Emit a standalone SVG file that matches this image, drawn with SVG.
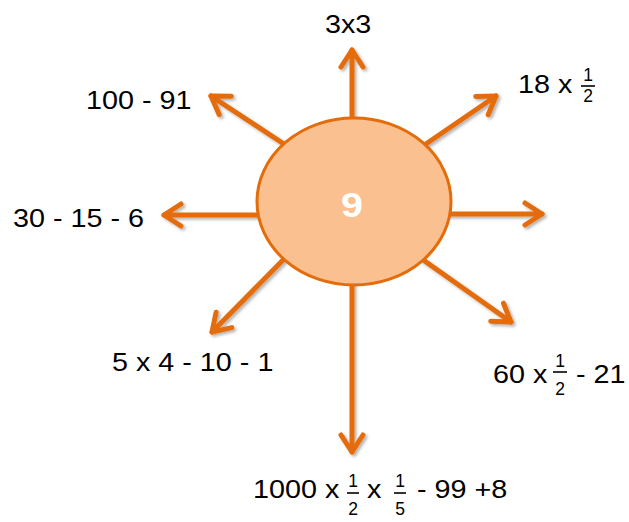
<svg xmlns="http://www.w3.org/2000/svg" width="629" height="522" viewBox="0 0 629 522">
<style>
.ln{stroke:#E46C0A;stroke-width:5;fill:none;stroke-linecap:round;marker-end:url(#ah)}
.t{font-family:"Liberation Sans",Arial,sans-serif;font-size:25px;fill:#000}
.f{font-family:"Liberation Sans",Arial,sans-serif;font-size:17.5px;fill:#000;text-anchor:middle}
.bar{stroke:#000;stroke-width:1.6}
</style>
<defs>
<marker id="ah" markerUnits="userSpaceOnUse" viewBox="-25 -20 30 40" refX="0" refY="0" markerWidth="30" markerHeight="40" orient="auto" overflow="visible">
<path d="M-17,-11 L0,0 L-17,11" fill="none" stroke="#E46C0A" stroke-width="5" stroke-linecap="round" stroke-linejoin="round"/>
</marker>
<filter id="sh" x="-20%" y="-20%" width="140%" height="140%">
<feDropShadow dx="2" dy="2" stdDeviation="1.5" flood-color="#000" flood-opacity="0.3"/>
</filter>
</defs>
<rect width="629" height="522" fill="#fff"/>
<g id="connectors" filter="url(#sh)">
<line class="ln" x1="352" y1="130" x2="352" y2="50"/>
<line class="ln" x1="290" y1="148" x2="211" y2="96"/>
<line class="ln" x1="265" y1="215" x2="164" y2="215"/>
<line class="ln" x1="288" y1="255" x2="212" y2="332"/>
<line class="ln" x1="352" y1="275" x2="352" y2="452"/>
<line class="ln" x1="419" y1="257" x2="511" y2="322"/>
<line class="ln" x1="440" y1="214" x2="542" y2="214"/>
<line class="ln" x1="420" y1="148" x2="496" y2="96"/>
</g>
<g id="node-center">
<ellipse cx="354" cy="201.5" rx="97" ry="83.5" fill="#FAC08F" stroke="#E46C0A" stroke-width="3"/>
<text x="0" y="0" transform="translate(352 217) scale(1.1 1)" style="font-family:'Liberation Sans',Arial,sans-serif;font-size:36px;font-weight:bold;fill:#fff;text-anchor:middle">9</text>
</g>
<g id="label-top">
<text class="t" transform="translate(325 33) scale(1.15 1)">3x3</text>
</g>
<g id="label-top-left">
<text class="t" transform="translate(86 109) scale(1.15 1)">100 - 91</text>
</g>
<g id="label-left">
<text class="t" transform="translate(13 227) scale(1.15 1)">30 - 15 - 6</text>
</g>
<g id="label-bottom-left">
<text class="t" transform="translate(112 371) scale(1.15 1)">5 x 4 - 10 - 1</text>
</g>
<g id="label-top-right">
<text class="t" transform="translate(518 93) scale(1.15 1)">18 x</text>
<text class="f" x="588" y="81">1</text>
<line class="bar" x1="581" y1="86" x2="595" y2="86"/>
<text class="f" x="588" y="102">2</text>
</g>
<g id="label-bottom-right">
<text class="t" transform="translate(493 383) scale(1.15 1)">60 x</text>
<text class="f" x="560" y="367">1</text>
<line class="bar" x1="553" y1="372" x2="567" y2="372"/>
<text class="f" x="560" y="395">2</text>
<text class="t" transform="translate(576 383) scale(1.15 1)">- 21</text>
</g>
<g id="label-bottom">
<text class="t" transform="translate(253 498) scale(1.15 1)">1000 x</text>
<text class="f" x="353" y="487">1</text>
<line class="bar" x1="347" y1="493" x2="359" y2="493"/>
<text class="f" x="353" y="515">2</text>
<text class="t" transform="translate(367 498) scale(1.15 1)">x</text>
<text class="f" x="400" y="487">1</text>
<line class="bar" x1="394" y1="493" x2="406" y2="493"/>
<text class="f" x="400" y="515">5</text>
<text class="t" transform="translate(417 498) scale(1.15 1)">- 99 +8</text>
</g>
</svg>
